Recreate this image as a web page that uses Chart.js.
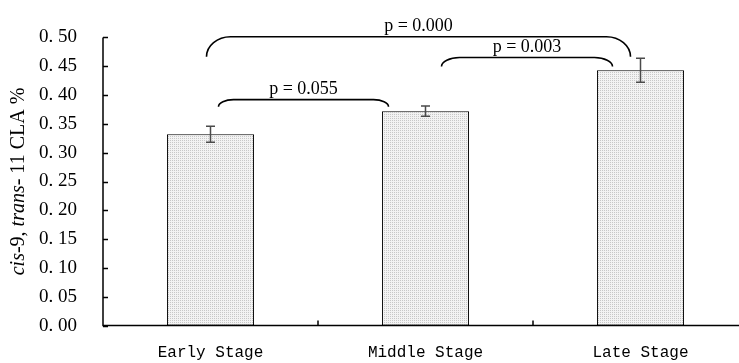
<!DOCTYPE html>
<html>
<head>
<meta charset="utf-8">
<script src="https://cdn.jsdelivr.net/npm/chart.js@4"></script>
<style>
  html, body { margin: 0; padding: 0; background: #fff; overflow: hidden; }
  #wrap { width: 760px; height: 363px; }
</style>
</head>
<body>
<div id="wrap"><canvas id="chart"></canvas></div>
<script>
// data
const stages = ['Early Stage', 'Middle Stage', 'Late Stage'];
const claPercent = [0.332, 0.372, 0.443];
const claError = [0.014, 0.009, 0.021];
const yTicks = [0, 0.05, 0.10, 0.15, 0.20, 0.25, 0.30, 0.35, 0.40, 0.45, 0.50];

// significance brackets: which bars, label, level of bracket top (axis units)
const pairs = [[0, 1], [1, 2], [0, 2]];
const pLabels = ['p = 0.055', 'p = 0.003', 'p = 0.000'];
const pLevels = [0.392, 0.465, 0.501];

// bracket shape tweaks (px): start/end offsets from bar centres, drop of the ends
const bracketShape = [
  { dx0: 8, dx1: -37, drop: 7, r: 15 },
  { dx0: 16, dx1: -28, drop: 9, r: 18 },
  { dx0: -4, dx1: -10, drop: 20, r: 24 }
];

// light stipple fill like the original
function stipple() {
  const c = document.createElement('canvas');
  c.width = 2; c.height = 2;
  const g = c.getContext('2d');
  g.fillStyle = '#f3f3f3';
  g.fillRect(0, 0, 2, 2);
  g.fillStyle = '#c8c8c8';
  g.fillRect(0, 0, 1, 1);
  return g.createPattern(c, 'repeat');
}

const extras = {
  id: 'extras',
  afterDatasetsDraw(chart) {
    const ctx = chart.ctx;
    const x = chart.scales.x, y = chart.scales.y;
    const area = chart.chartArea;
    ctx.save();

    // error bars
    ctx.strokeStyle = '#4a4a4a';
    ctx.lineWidth = 1.5;
    claPercent.forEach((v, i) => {
      const cx = x.getPixelForValue(i);
      const t = y.getPixelForValue(v + claError[i]);
      const b = y.getPixelForValue(v - claError[i]);
      ctx.beginPath();
      ctx.moveTo(cx, t); ctx.lineTo(cx, b);
      ctx.moveTo(cx - 4.5, t); ctx.lineTo(cx + 4.5, t);
      ctx.moveTo(cx - 4.5, b); ctx.lineTo(cx + 4.5, b);
      ctx.stroke();
    });

    // axes with inward ticks
    ctx.strokeStyle = '#000';
    ctx.lineWidth = 1.5;
    ctx.beginPath();
    ctx.moveTo(area.left, area.top);
    ctx.lineTo(area.left, area.bottom);
    ctx.lineTo(chart.width, area.bottom);
    yTicks.forEach(v => {
      const py = Math.round(y.getPixelForValue(v)) + 0.5;
      ctx.moveTo(area.left, py); ctx.lineTo(area.left + 5, py);
    });
    for (let i = 0; i < stages.length; i++) {
      const px = (x.getPixelForValue(i) + x.getPixelForValue(i + 1)) / 2;
      ctx.moveTo(px, area.bottom); ctx.lineTo(px, area.bottom - 5);
    }
    ctx.stroke();

    // significance brackets
    ctx.lineWidth = 1.6;
    ctx.fillStyle = '#000';
    ctx.font = '18px "Liberation Serif", serif';
    ctx.textAlign = 'center';
    ctx.textBaseline = 'alphabetic';
    pairs.forEach((p, k) => {
      const s = bracketShape[k];
      const x0 = x.getPixelForValue(p[0]) + s.dx0;
      const x1 = x.getPixelForValue(p[1]) + s.dx1;
      const top = y.getPixelForValue(pLevels[k]);
      const end = top + s.drop;
      ctx.beginPath();
      ctx.moveTo(x0, end);
      ctx.bezierCurveTo(x0, top + s.drop * 0.45, x0 + s.r * 0.45, top, x0 + s.r, top);
      ctx.lineTo(x1 - s.r, top);
      ctx.bezierCurveTo(x1 - s.r * 0.45, top, x1, top + s.drop * 0.45, x1, end);
      ctx.stroke();
      ctx.fillText(pLabels[k], (x0 + x1) / 2, top - 6);
    });

    // y axis title with italic parts
    const parts = [['cis', true], ['-9, ', false], ['trans', true], ['- 11 CLA %', false]];
    const fnt = it => (it ? 'italic ' : '') + '20px "Liberation Serif", serif';
    let total = 0;
    parts.forEach(([t, it]) => { ctx.font = fnt(it); total += ctx.measureText(t).width; });
    ctx.translate(19, (area.top + area.bottom) / 2);
    ctx.rotate(-Math.PI / 2);
    ctx.textAlign = 'left';
    ctx.textBaseline = 'middle';
    let cur = -total / 2;
    parts.forEach(([t, it]) => {
      ctx.font = fnt(it);
      ctx.fillText(t, cur, 0);
      cur += ctx.measureText(t).width;
    });
    ctx.restore();
  }
};

new Chart(document.getElementById('chart'), {
  type: 'bar',
  data: {
    labels: stages,
    datasets: [{
      data: claPercent,
      backgroundColor: stipple(),
      borderColor: '#000',
      borderWidth: 1,
      borderSkipped: false,
      categoryPercentage: 1,
      barPercentage: 0.405
    }]
  },
  options: {
    responsive: true,
    maintainAspectRatio: false,
    animation: false,
    events: [],
    layout: { padding: { top: 34, right: 12, left: 0, bottom: 0 } },
    plugins: { legend: { display: false }, tooltip: { enabled: false } },
    scales: {
      y: {
        min: 0,
        max: 0.5,
        afterFit: s => { s.width = 103; },
        afterBuildTicks: s => { s.ticks = yTicks.map(v => ({ value: v })); },
        border: { display: false },
        grid: { display: false, drawTicks: false },
        ticks: {
          padding: 26,
          color: '#000',
          font: { family: '"Liberation Serif", serif', size: 19 },
          callback: v => v.toFixed(2).replace('.', '. ')
        }
      },
      x: {
        afterFit: s => { s.height = 36; },
        border: { display: false },
        grid: { display: false, drawTicks: false },
        ticks: {
          padding: 18,
          color: '#000',
          maxRotation: 0,
          font: { family: '"Liberation Mono", monospace', size: 16 }
        }
      }
    }
  },
  plugins: [extras]
});
</script>
</body>
</html>
